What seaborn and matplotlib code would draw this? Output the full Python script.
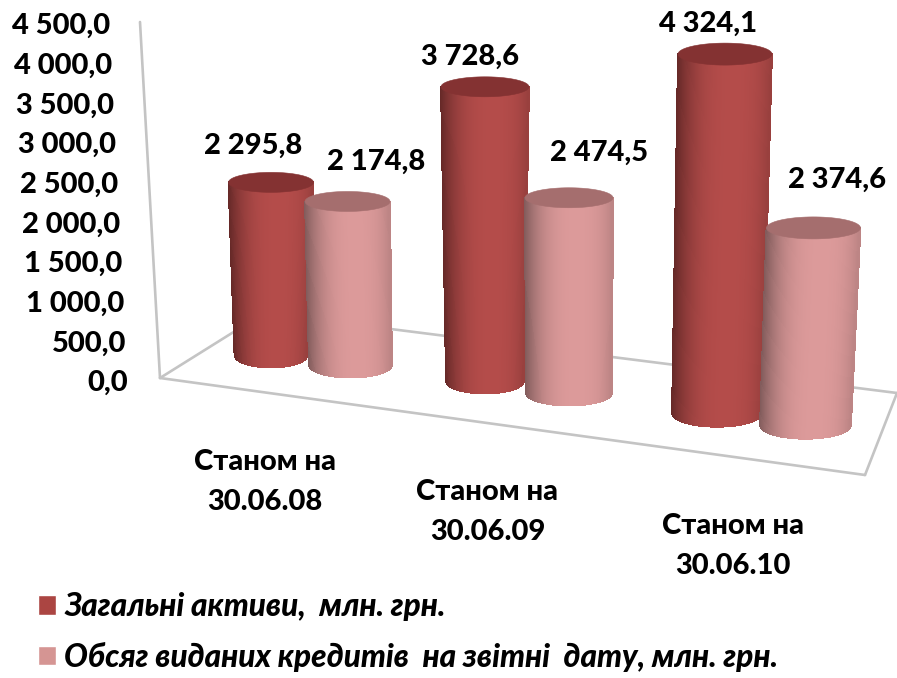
import numpy as np
import pandas as pd
import matplotlib
matplotlib.use("Agg")
import matplotlib.pyplot as plt
from matplotlib.collections import PolyCollection
from matplotlib.patches import Polygon
from matplotlib.transforms import Affine2D
import seaborn as sns

# ---- data
categories = ["Станом на\n30.06.08", "Станом на\n30.06.09", "Станом на\n30.06.10"]
series_names = ["Загальні активи,  млн. грн.", "Обсяг виданих кредитів  на звітні  дату, млн. грн."]
assets = [2295.8, 3728.6, 4324.1]
loans = [2174.8, 2474.5, 2374.6]
tick_values = [0, 500, 1000, 1500, 2000, 2500, 3000, 3500, 4000, 4500]

# ---- styling / perspective model (pixels of the 897x678 canvas)
W, H = 897, 678
FONT = ["Lato", "Open Sans", "DejaVu Sans"]
WEIGHT = 900
colors = ["#ab4542", "#d59593"]
body_mid = ["#b44c4a", "#dc9a9a"]
body_edge = ["#642827", "#805a5a"]
cap_col = ["#843232", "#a56e6e"]
base_x = [(271, 205, 9), (350.5, 209.5, 9)]
base_y = [(355, 23, 3), (365, 26, 2)]
px_per_unit = [0.0752, 0.0789, 0.0830]
lean = [[0, 0, 8], [-3, 0, 8]]
top_w = [85, 88, 94]
bot_w = [[73, 78, 90], [83, 86, 91]]
cap_h = [10, 10, 11]
lab_dx = [[-18, -15, -17], [29, 30, 24]]
lab_dy = [[-37, -30, -30], [-40, -45, -48]]
cat_label_px = [265, 487.5, 733]
cat_label_py = [482, 512, 546]
wire = [((140, 22), (160, 378)), ((160, 378), (865, 475)), ((865, 475), (897, 393)),
        ((160, 378), (264, 313)), ((264, 313), (897, 393))]

sns.set_theme(style="white")
plt.rcParams["font.family"] = FONT
plt.rcParams["font.weight"] = "bold"

df = pd.DataFrame({
    "category": categories * 2,
    "series": [series_names[0]] * 3 + [series_names[1]] * 3,
    "value": assets + loans,
})

fig = plt.figure(figsize=(W / 100, H / 100), dpi=100, facecolor="white")
ax = fig.add_axes([0, 0, 1, 1])
sns.barplot(data=df, x="category", y="value", hue="series", order=categories,
            hue_order=series_names, palette=colors, saturation=1, ax=ax, errorbar=None)

# value axis: 0 at y=383 px, 4500 at y=26 px
k = (383 - 26) / 4500
ax.set_ylim((383 - H) / k, 383 / k)
ax.set_xlim(-265 / 233.5, (W - 265) / 233.5)
ax.set_xlabel("")
ax.set_ylabel("")
sns.despine(ax=ax, left=True, bottom=True)
ax.tick_params(length=0, pad=0)


def fmt(v):
    return f"{v:,.1f}".replace(",", " ").replace(".", ",")


ax.set_yticks(tick_values, [fmt(v) for v in tick_values])
for v, lab in zip(tick_values, ax.get_yticklabels()):
    lab.set_x((128 - v * 18 / 4500) / W)
    lab.set_fontsize(21)
    lab.set_fontweight(WEIGHT)
    lab.set_color("black")
    lab.set_ha("right")
    lab.set_va("center")

ax.set_xticks([(p - 265) / 233.5 for p in cat_label_px], categories)
for py, lab in zip(cat_label_py, ax.get_xticklabels()):
    lab.set_y(1 - py / H)
    lab.set_fontsize(21)
    lab.set_fontweight(WEIGHT)
    lab.set_color("black")
    lab.set_ha("center")
    lab.set_va("center")
    lab.set_linespacing(1.7)

px = Affine2D().scale(1, -1).translate(0, H)

for a, b in wire:
    ax.plot([a[0], b[0]], [a[1], b[1]], color="#c4c4c4", lw=1.9, transform=px, zorder=1,
            solid_capstyle="round")


def shade(t, s):
    # t in [-1, 1]; highlight a little right of the middle
    d = np.abs(t - 0.2) / 1.2
    f = np.clip(d ** 2.6, 0, 1)
    m = np.array(matplotlib.colors.to_rgb(body_mid[s]))
    e = np.array(matplotlib.colors.to_rgb(body_edge[s]))
    return m * (1 - f) + e * f


ts = np.linspace(-1, 1, 90)
zo = 3
for i in range(3):
    for s in range(2):
        bar = ax.containers[s][i]
        v = bar.get_height()
        bar.set_visible(False)
        bx = base_x[s][0] + base_x[s][1] * i + base_x[s][2] * i ** 2
        by = base_y[s][0] + base_y[s][1] * i + base_y[s][2] * i ** 2
        ty = by - v * px_per_unit[i]
        tx = bx + lean[s][i]
        wt, wb = top_w[i] / 2, bot_w[s][i] / 2
        ch = cap_h[i]
        bh = ch * 1.25
        quads, cols = [], []
        for t0, t1 in zip(ts[:-1], ts[1:]):
            xt0, xt1 = tx + t0 * wt, tx + t1 * wt
            xb0, xb1 = bx + t0 * wb, bx + t1 * wb
            yt0 = ty + ch * np.sqrt(max(1 - t0 ** 2, 0))
            yt1 = ty + ch * np.sqrt(max(1 - t1 ** 2, 0))
            yb0 = by + bh * np.sqrt(max(1 - t0 ** 2, 0))
            yb1 = by + bh * np.sqrt(max(1 - t1 ** 2, 0))
            quads.append([(xt0, yt0), (xt1, yt1), (xb1, yb1), (xb0, yb0)])
            cols.append(shade((t0 + t1) / 2, s))
        pc = PolyCollection(quads, facecolors=cols, edgecolors=cols, linewidths=0.6,
                            antialiaseds=False, transform=px, zorder=zo)
        ax.add_collection(pc, autolim=False)
        th = np.linspace(0, 2 * np.pi, 80)
        ax.add_patch(Polygon(np.c_[tx + wt * np.cos(th), ty + ch * np.sin(th)], closed=True,
                             facecolor=cap_col[s], edgecolor=cap_col[s], lw=0.4,
                             transform=px, zorder=zo + 0.5))
        ax.annotate(fmt(v), xy=(tx + lab_dx[s][i], ty + lab_dy[s][i]), xycoords=px,
                    ha="center", va="center", fontsize=21, fontweight=WEIGHT,
                    color="black", zorder=10)
        zo += 1

sns.move_legend(ax, "upper left", bbox_to_anchor=(38 / W, 1 - 592 / H), frameon=False, title=None,
                prop={"size": 22.7, "weight": WEIGHT, "style": "italic"},
                handlelength=0.57, handleheight=0.57, handletextpad=0.27,
                labelspacing=0.66, borderpad=0, borderaxespad=0)
for t in ax.get_legend().get_texts():
    t.set_color("black")

fig.savefig("out.png", dpi=100, facecolor="white")
